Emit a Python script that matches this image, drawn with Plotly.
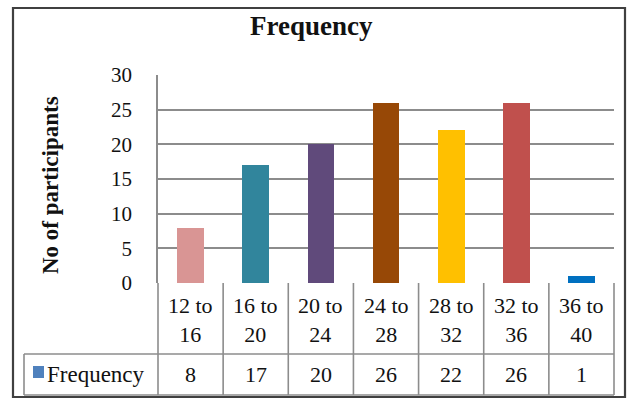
import plotly.graph_objects as go

# Age groups and number of participants in each
categories = ["12 to 16", "16 to 20", "20 to 24", "24 to 28", "28 to 32", "32 to 36", "36 to 40"]
frequency = [8, 17, 20, 26, 22, 26, 1]
bar_colors = ["#D99594", "#31859C", "#604A7B", "#974806", "#FFC000", "#C0504D", "#0070C0"]
y_ticks = [0, 5, 10, 15, 20, 25, 30]

W, H = 629, 398
FONT = "Liberation Serif, Times New Roman, serif"
GRID = "#8c8c8c"
TEXT = "#111111"

# plot box in pixels
PL, PR, PT, PB = 158, 614, 75, 283
ROW1_B = 354    # bottom of category row
ROW2_B = 395    # bottom of value row
LEG_L = 24      # left edge of legend cell


def px(x):
    return x / W


def py(y):
    return 1 - y / H


fig = go.Figure()
fig.add_trace(go.Bar(
    x=list(range(len(categories))),
    y=frequency,
    marker=dict(color=bar_colors, line=dict(width=0)),
    width=0.41,
    name="Frequency",
    showlegend=False,
))

shapes = []
line = dict(color=GRID, width=1.6)

# outer chart frame
shapes.append(dict(type="rect", xref="paper", yref="paper",
                   x0=px(13), x1=px(625), y0=py(8), y1=py(397),
                   line=dict(color="#404040", width=2.2), layer="below"))

n = len(categories)
col_w = (PR - PL) / n
# column borders of the data table
for i in range(n + 1):
    xx = PL + i * col_w
    shapes.append(dict(type="line", xref="paper", yref="paper",
                       x0=px(xx), x1=px(xx), y0=py(PB), y1=py(ROW2_B), line=line))
# row borders
shapes.append(dict(type="line", xref="paper", yref="paper",
                   x0=px(LEG_L), x1=px(PR), y0=py(ROW1_B), y1=py(ROW1_B), line=line))
shapes.append(dict(type="line", xref="paper", yref="paper",
                   x0=px(LEG_L), x1=px(PR), y0=py(ROW2_B), y1=py(ROW2_B), line=line))
shapes.append(dict(type="line", xref="paper", yref="paper",
                   x0=px(LEG_L), x1=px(LEG_L), y0=py(ROW1_B), y1=py(ROW2_B), line=line))
# legend key
shapes.append(dict(type="rect", xref="paper", yref="paper",
                   x0=px(33), x1=px(44), y0=py(366), y1=py(378),
                   line=dict(width=0), fillcolor="#4F81BD"))

annotations = []
for i, (cat, val) in enumerate(zip(categories, frequency)):
    cx = PL + (i + 0.5) * col_w
    a, b = cat.split(" to ")
    annotations.append(dict(xref="paper", yref="paper", x=px(cx), y=py((PB + ROW1_B) / 2 + 1),
                            text=f"{a} to<br>{b}", showarrow=False,
                            font=dict(family=FONT, size=22, color=TEXT),
                            xanchor="center", yanchor="middle", align="center"))
    annotations.append(dict(xref="paper", yref="paper", x=px(cx), y=py((ROW1_B + ROW2_B) / 2),
                            text=str(val), showarrow=False,
                            font=dict(family=FONT, size=22, color=TEXT),
                            xanchor="center", yanchor="middle"))
annotations.append(dict(xref="paper", yref="paper", x=px(45), y=py((ROW1_B + ROW2_B) / 2),
                        text="Frequency", showarrow=False,
                        font=dict(family=FONT, size=23, color=TEXT),
                        xanchor="left", yanchor="middle"))
annotations.append(dict(xref="paper", yref="paper", x=px(51), y=py(185),
                        text="<b>No of participants</b>", showarrow=False, textangle=-90,
                        font=dict(family=FONT, size=23, color=TEXT),
                        xanchor="center", yanchor="middle"))
annotations.append(dict(xref="paper", yref="paper", x=px(311), y=py(26),
                        text="<b>Frequency</b>", showarrow=False,
                        font=dict(family=FONT, size=27, color=TEXT),
                        xanchor="center", yanchor="middle"))

fig.update_layout(
    width=W, height=H,
    margin=dict(l=0, r=0, t=0, b=0, autoexpand=False),
    paper_bgcolor="white", plot_bgcolor="white",
    shapes=shapes, annotations=annotations,
    xaxis=dict(domain=[px(PL), px(PR)], range=[-0.5, n - 0.5],
               showticklabels=False, showgrid=False, zeroline=False,
               showline=False, ticks=""),
    yaxis=dict(domain=[py(PB), py(PT)], range=[0, 30],
               tickvals=y_ticks, ticktext=[str(t) for t in y_ticks],
               showgrid=True, gridcolor=GRID, gridwidth=1.6,
               zeroline=False, showline=True, linecolor=GRID, linewidth=1.6,
               ticks="", ticklabelstandoff=20,
               tickfont=dict(family=FONT, size=21, color=TEXT)),
    bargap=0,
)

fig.write_html("out.html")
